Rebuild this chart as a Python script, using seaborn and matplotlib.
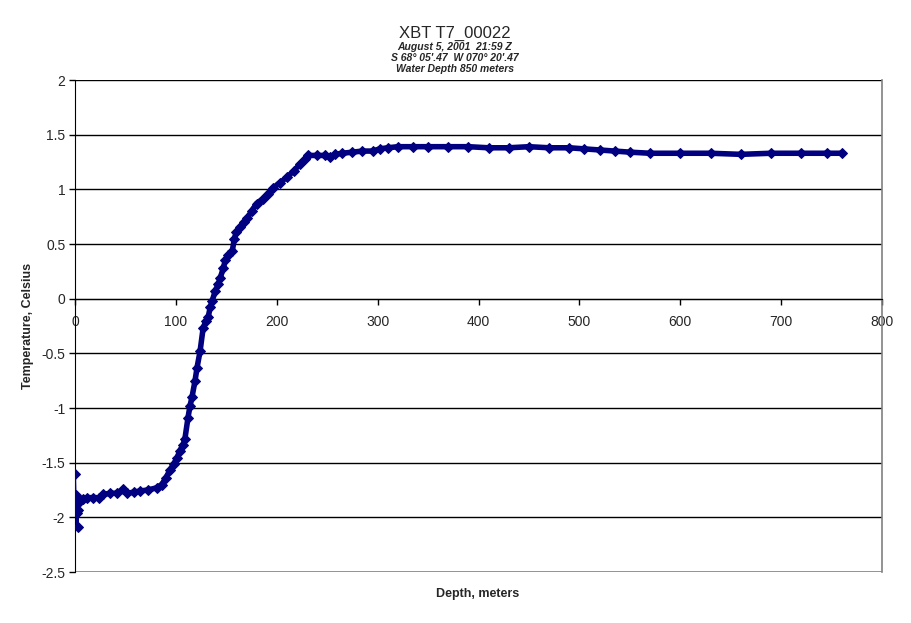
import pandas as pd
import matplotlib.pyplot as plt
import seaborn as sns

# depth (m) and temperature (C)
depth = [0, 0.5, 1, 2, 2.5, 3, 5, 8, 12, 18, 24, 28, 35, 42, 48, 52, 58, 64,
         72, 81, 86, 90, 94, 98, 101, 104, 107, 109, 112, 114, 116, 119, 121,
         124, 127, 130, 132, 134, 136, 139, 142, 144, 147, 149, 152, 156, 158,
         160, 164, 168, 171, 175, 180, 186, 191, 196, 203, 210, 217, 223, 228,
         231, 240, 248, 253, 258, 265, 275, 285, 295, 302, 310, 320, 335, 350,
         370, 390, 410, 430, 450, 470, 490, 505, 520, 535, 550, 570, 600, 630,
         660, 690, 720, 745, 760]
temp = [-1.60, -1.80, -1.87, -1.96, -2.09, -1.93, -1.85, -1.83, -1.82, -1.82,
        -1.82, -1.79, -1.78, -1.78, -1.74, -1.78, -1.77, -1.76, -1.75, -1.73,
        -1.70, -1.64, -1.57, -1.51, -1.46, -1.39, -1.34, -1.28, -1.09, -0.98,
        -0.90, -0.75, -0.63, -0.48, -0.27, -0.20, -0.17, -0.08, -0.02, 0.07,
        0.13, 0.19, 0.28, 0.35, 0.40, 0.44, 0.55, 0.61, 0.66, 0.70, 0.74, 0.80,
        0.87, 0.91, 0.96, 1.01, 1.06, 1.11, 1.17, 1.23, 1.28, 1.31, 1.31, 1.31,
        1.30, 1.32, 1.33, 1.34, 1.35, 1.35, 1.37, 1.38, 1.39, 1.39, 1.39, 1.39,
        1.39, 1.38, 1.38, 1.39, 1.38, 1.38, 1.37, 1.36, 1.35, 1.34, 1.33, 1.33,
        1.33, 1.32, 1.33, 1.33, 1.33, 1.33]

x_ticks = [0, 100, 200, 300, 400, 500, 600, 700, 800]
y_ticks = [-2.5, -2, -1.5, -1, -0.5, 0, 0.5, 1, 1.5, 2]
y_labels = ['-2.5', '-2', '-1.5', '-1', '-0.5', '0', '0.5', '1', '1.5', '2']

df = pd.DataFrame({'Depth': depth, 'Temp': temp})

sns.set_style('white')
plt.rcParams['font.family'] = ['Liberation Sans', 'DejaVu Sans']

fig = plt.figure(figsize=(9.11, 6.23), dpi=100)
ax = fig.add_axes([75 / 911, 1 - 572 / 623, 807 / 911, 492 / 623])

# horizontal gridlines
for v in y_ticks[1:]:
    ax.axhline(v, color='black', lw=1, zorder=1)
ax.axhline(-2.5, color='#808080', lw=1.2, zorder=1)

# thin connector for the first few spiky readings, thick band for the rest
sns.lineplot(data=df.iloc[:7], x='Depth', y='Temp', sort=False, ax=ax,
             color='#000080', lw=1.5, marker='D', markersize=5,
             markeredgecolor='#000080', zorder=3)
sns.lineplot(data=df.iloc[6:], x='Depth', y='Temp', sort=False, ax=ax,
             color='#000080', lw=4, marker='D', markersize=5.5,
             markeredgecolor='#000080', zorder=3)

ax.set_xlim(0, 800)
ax.set_ylim(-2.5, 2)
ax.set_xticks(x_ticks)
ax.set_xticklabels([str(t) for t in x_ticks], fontsize=10)
ax.set_yticks(y_ticks)
ax.set_yticklabels(y_labels, fontsize=10)

ax.spines['bottom'].set_position(('data', 0))
ax.spines['bottom'].set_color('black')
ax.spines['left'].set_color('black')
ax.spines['top'].set_visible(False)
ax.spines['right'].set_color('#808080')
ax.spines['right'].set_linewidth(1.2)
ax.tick_params(axis='both', direction='out', length=4, width=1, color='black',
               bottom=True, left=True, pad=3)
ax.tick_params(axis='x', pad=8)

ax.set_xlabel('')
ax.set_ylabel('')
fig.text(478 / 911, 1 - 594 / 623, 'Depth, meters', ha='center', va='center',
         fontsize=9, fontweight='bold')
fig.text(28 / 911, 1 - 326 / 623, 'Temperature, Celsius', ha='center',
         va='center', rotation=90, fontsize=9, fontweight='bold')

fig.text(455 / 911, 1 - 33 / 623, 'XBT T7_00022', ha='center', va='center',
         fontsize=12)
sub = ['August 5, 2001  21:59 Z', "S 68\u00b0 05'.47  W 070\u00b0 20'.47",
       'Water Depth 850 meters']
for i, s in enumerate(sub):
    fig.text(455 / 911, 1 - (47 + 11 * i) / 623, s, ha='center', va='center',
             fontsize=7.5, fontweight='bold', style='italic')

fig.savefig('out.png', dpi=100)
